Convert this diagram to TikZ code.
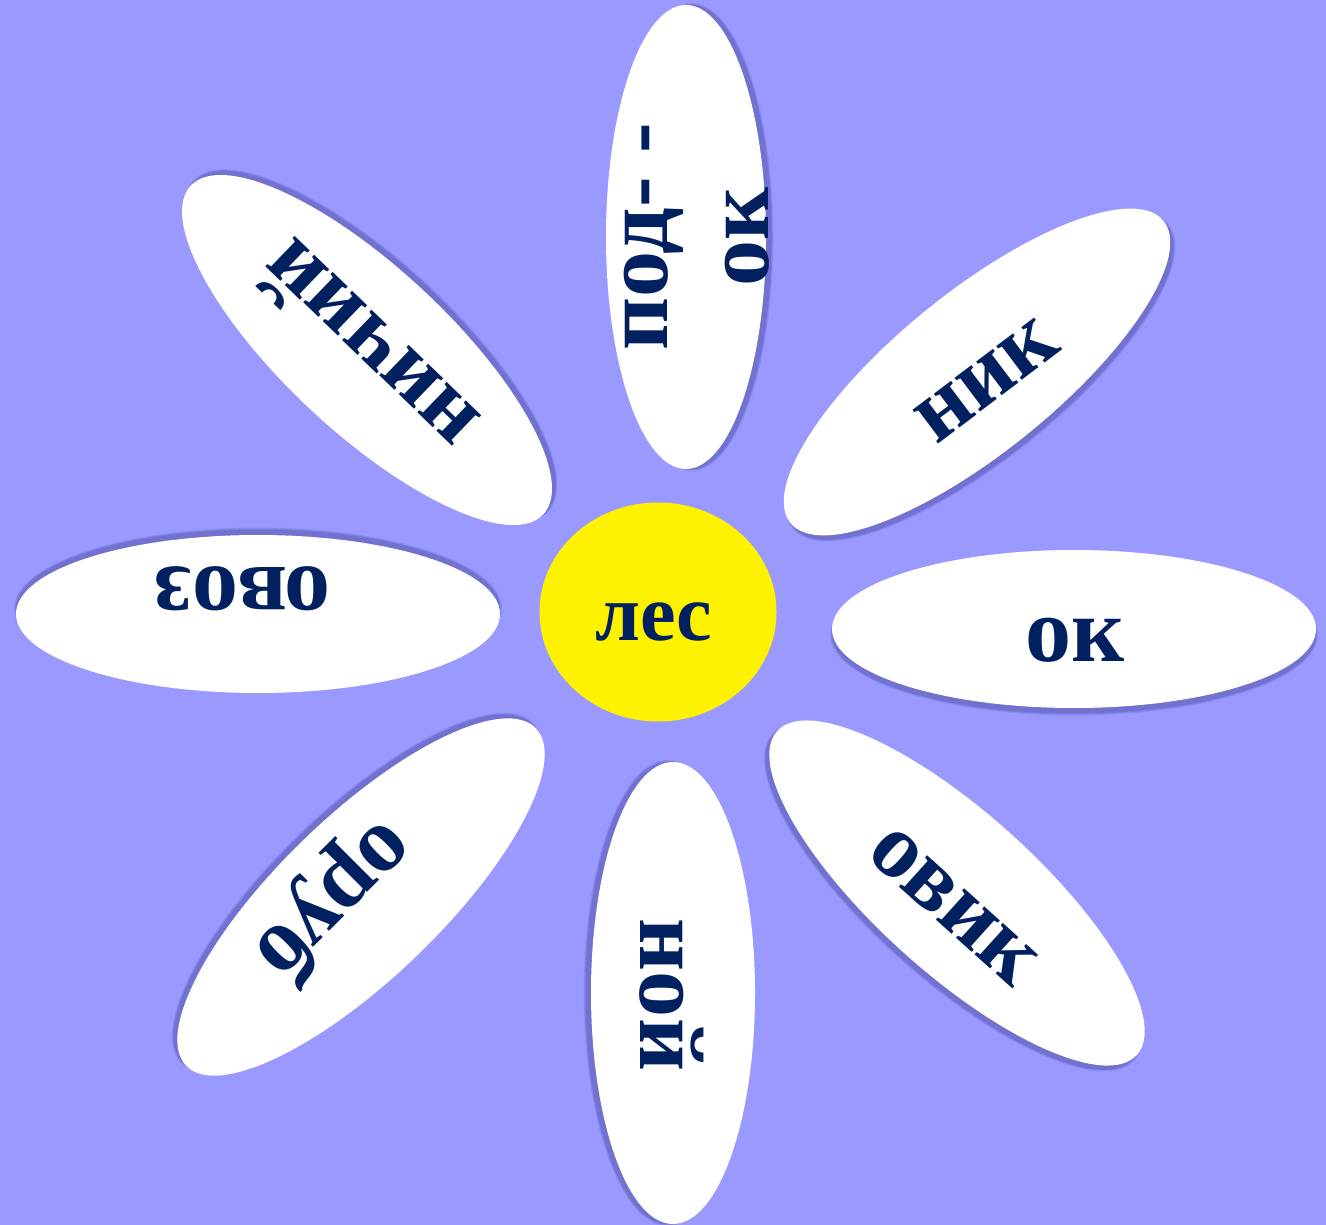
\documentclass[tikz,border=0pt]{standalone}
\usepackage{fontspec}
\setmainfont{Liberation Serif}
\usetikzlibrary{shapes.geometric}
\definecolor{bgc}{RGB}{153,153,255}
\definecolor{navy}{RGB}{0,32,96}
\definecolor{shc}{RGB}{40,40,120}
\tikzset{
  petal/.style={ellipse, fill=white, inner sep=0pt, outer sep=0pt},
  sun/.style={ellipse, fill=yellow, inner sep=0pt, minimum width=2.37cm, minimum height=2.19cm},
  word/.style={font=\bfseries\fontsize{26.2}{29}\selectfont, text=navy, inner sep=0pt,
               text height=11.9pt, text depth=0pt},
  centreword/.style={font=\bfseries\fontsize{22.8}{25}\selectfont, text=navy, inner sep=0pt,
               text height=10.4pt, text depth=0pt}
}
\newcommand\mypetal[6]{%
  \begin{scope}[shift={(#2,#3)}, rotate=#4]
    \foreach \g/\o in {0.02/0.10,0.01/0.13,0/0.16}{
      \fill[shc, opacity=\o] (0,-0.055) ellipse [x radius=#5+\g, y radius=#6+\g];
    }
    \node[petal, transform shape, minimum width=2*#5cm, minimum height=2*#6cm] (#1) at (0,0) {};
  \end{scope}}
\begin{document}
\begin{tikzpicture}
\useasboundingbox (0,0) rectangle (13.26,-12.25);
\fill[bgc] (0,0) rectangle (13.26,-12.25);
\mypetal{pR}{10.74}{-6.29}{0}{2.42}{0.79}
\mypetal{pTR}{9.77}{-3.72}{39}{2.40}{0.80}
\mypetal{pT}{6.86}{-2.37}{90}{2.32}{0.80}
\mypetal{pTL}{3.67}{-3.50}{137}{2.41}{0.82}
\mypetal{pL}{2.58}{-6.14}{180}{2.42}{0.79}
\mypetal{pLL}{3.61}{-8.97}{224}{2.43}{0.81}
\mypetal{pB}{6.73}{-9.93}{270}{2.31}{0.82}
\mypetal{pLR}{9.57}{-8.93}{318}{2.42}{0.80}
\node[sun] (c) at (6.58,-6.12) {};
\node[centreword] (tC) at (6.54,-6.22) {лес};
\node[word] (tR) at (10.75,-6.41) {ок};
\node[word, rotate=37] (tTR) at (9.87,-3.81) {ник};
\node[word, rotate=90] (tT1) at (6.47,-2.37) {под- -};
\node[word, rotate=90] (tT2) at (7.48,-2.37) {ок};
\node[word, rotate=136] (tTL) at (3.74,-3.41) {ничий};
\node[word, rotate=180] (tL) at (2.43,-5.88) {овоз};
\node[word, rotate=225] (tLL) at (3.32,-8.98) {оруб};
\node[word, rotate=270] (tB) at (6.61,-9.95) {ной};
\node[word, rotate=318] (tLR) at (9.53,-9.07) {овик};
\end{tikzpicture}
\end{document}
